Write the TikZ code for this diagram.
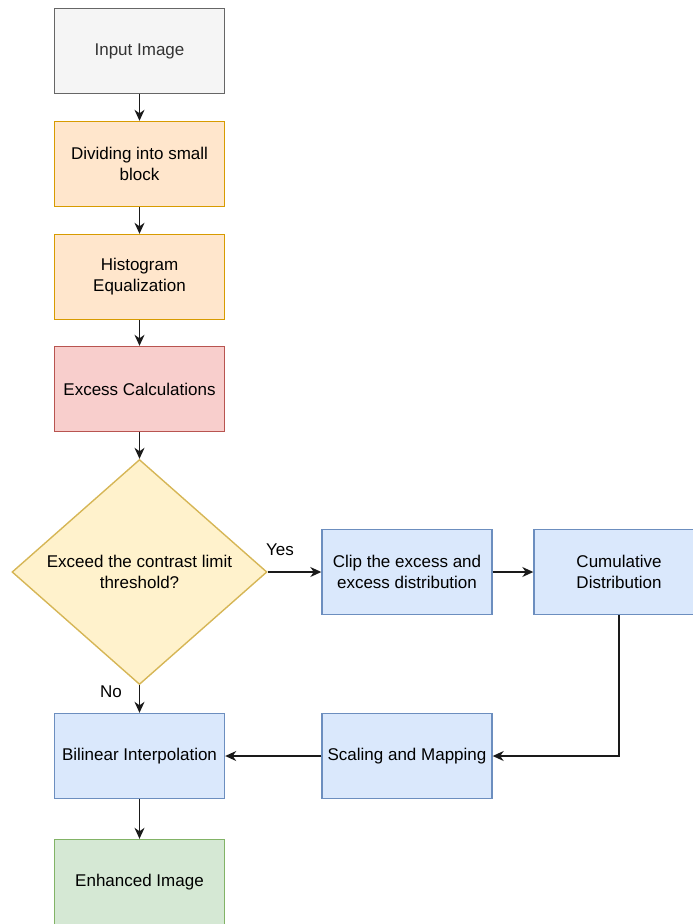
\documentclass[tikz,border=0pt]{standalone}
\usepackage{fontspec}
\setmainfont{Liberation Sans}
\usetikzlibrary{shapes.geometric,arrows.meta}
\definecolor{grayfill}{HTML}{F5F5F5}\definecolor{graydraw}{HTML}{666666}\definecolor{graytext}{HTML}{333333}
\definecolor{orfill}{HTML}{FFE6CC}\definecolor{ordraw}{HTML}{D79B00}
\definecolor{redfill}{HTML}{F8CECC}\definecolor{reddraw}{HTML}{B85450}
\definecolor{yelfill}{HTML}{FFF2CC}\definecolor{yeldraw}{HTML}{D6B656}
\definecolor{bluefill}{HTML}{DAE8FC}\definecolor{bluedraw}{HTML}{6C8EBF}
\definecolor{grnfill}{HTML}{D5E8D4}\definecolor{grndraw}{HTML}{82B366}
\definecolor{edgecol}{HTML}{1A1A1A}
\tikzset{
  boxbase/.style={rectangle, minimum width=170pt, minimum height=85pt, inner sep=0pt, align=center, line width=1.4pt, font=\fontsize{17}{21}\selectfont},
  graybox/.style={boxbase, fill=grayfill, draw=graydraw, text=graytext},
  orbox/.style={boxbase, fill=orfill, draw=ordraw},
  redbox/.style={boxbase, fill=redfill, draw=reddraw},
  bluebox/.style={boxbase, fill=bluefill, draw=bluedraw},
  grnbox/.style={boxbase, fill=grnfill, draw=grndraw},
  decbox/.style={diamond, minimum width=255pt, minimum height=225pt, inner sep=0pt, align=center, line width=1.4pt, fill=yelfill, draw=yeldraw, font=\fontsize{17}{21}\selectfont},
  arr/.style={draw=edgecol, line width=1.4pt, -{Stealth[length=11pt,width=10pt,inset=3.5pt]}},
  lbl/.style={font=\fontsize{17}{21}\selectfont, inner sep=0pt}
}
\begin{document}
\begin{tikzpicture}[x=1pt,y=-1pt]
\useasboundingbox (0,0) rectangle (693,924);
\node[graybox] (inp) at (139.5,51) {Input Image};
\node[orbox] (div) at (139.5,164) {Dividing into small\\block};
\node[orbox] (his) at (139.5,277) {Histogram\\Equalization};
\node[redbox] (exc) at (139.5,389) {Excess Calculations};
\node[decbox] (dec) at (139.5,572) {Exceed the contrast limit\\threshold?};
\node[bluebox] (clip) at (407,572) {Clip the excess and\\excess distribution};
\node[bluebox] (cum) at (619,572) {Cumulative\\Distribution};
\node[bluebox] (bil) at (139.5,756) {Bilinear Interpolation};
\node[bluebox] (sca) at (407,756) {Scaling and Mapping};
\node[grnbox] (enh) at (139.5,882) {Enhanced Image};
\draw[arr] (inp) -- (div);
\draw[arr] (div) -- (his);
\draw[arr] (his) -- (exc);
\draw[arr] (exc) -- (dec.north);
\draw[arr] (dec.east) -- (clip.west);
\draw[arr] (clip) -- (cum);
\draw[arr] (cum.south) |- (sca.east);
\draw[arr] (sca) -- (bil);
\draw[arr] (dec.south) -- (bil.north);
\draw[arr] (bil) -- (enh);
\node[lbl] (yes) at (280,550) {Yes};
\node[lbl] (no) at (111,692) {No};
\end{tikzpicture}
\end{document}
